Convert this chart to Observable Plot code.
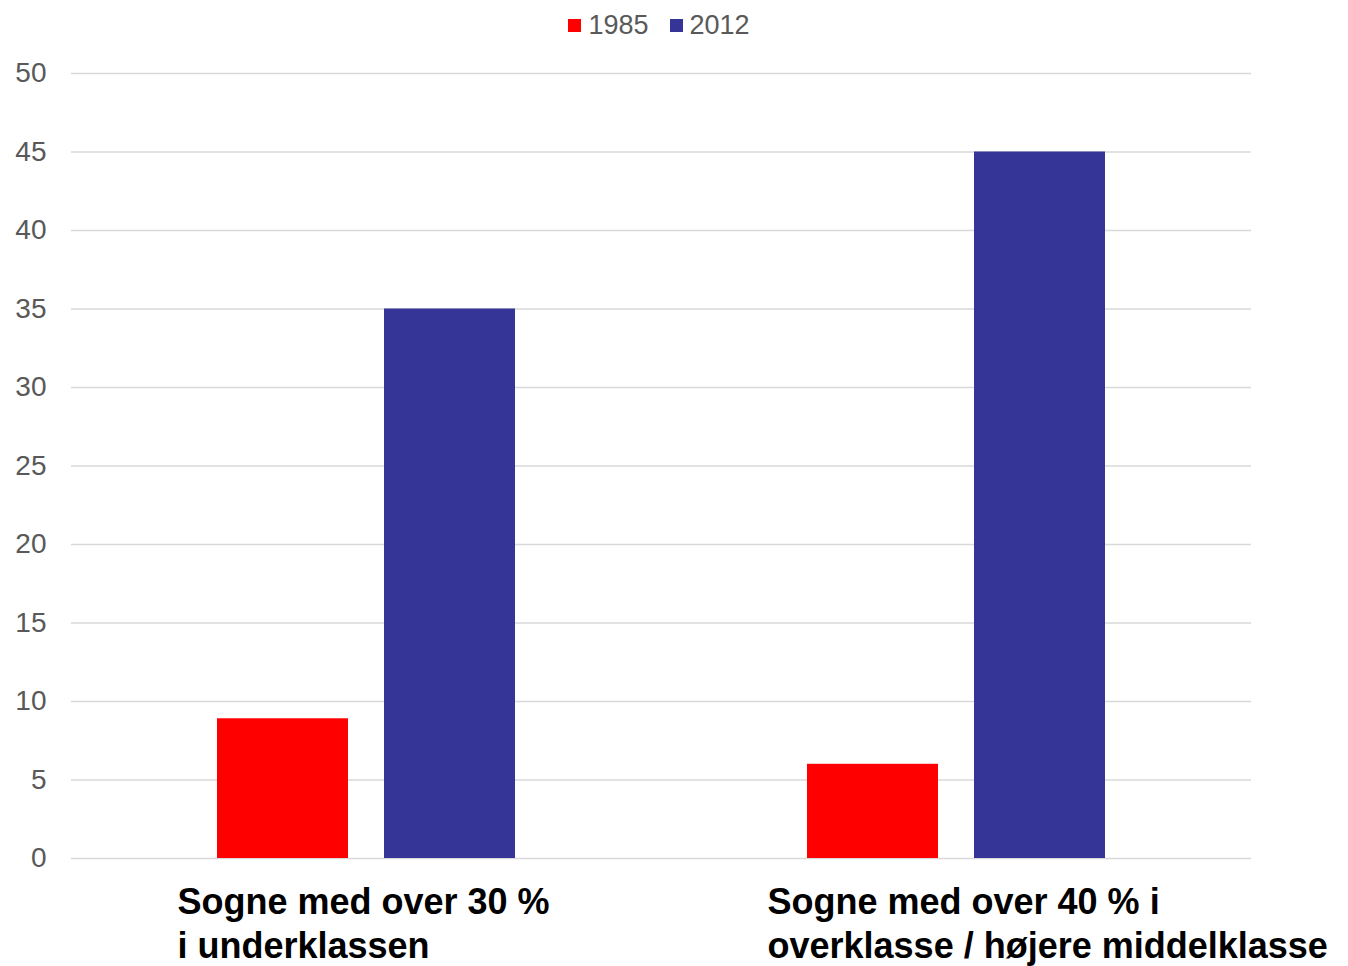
<!DOCTYPE html>
<html>
<head>
<meta charset="utf-8">
<script src="https://cdn.jsdelivr.net/npm/d3@7"></script>
<script src="https://cdn.jsdelivr.net/npm/@observablehq/plot@0.6"></script>
<style>
  html, body { margin: 0; padding: 0; background: #fff; }
  body { width: 1348px; height: 966px; overflow: hidden; font-family: "Liberation Sans", Arial, sans-serif; }
  #legend { height: 50px; display: flex; justify-content: center; align-items: center; gap: 21px; font-size: 27px; color: #595959; padding-right: 30px; box-sizing: border-box; }
  #legend .item { display: flex; align-items: center; gap: 7px; }
  #legend .sw { width: 13px; height: 13px; display: inline-block; }
</style>
</head>
<body>
<div id="legend"></div>
<div id="chart"></div>
<script>
const categories = ["Sogne med over 30 %\ni underklassen", "Sogne med over 40 % i\noverklasse / højere middelklasse"];
const series = ["1985", "2012"];
const values1985 = [8.9, 6];
const values2012 = [35, 45];
const colors = ["#ff0000", "#353597"];
const yTicks = [0, 5, 10, 15, 20, 25, 30, 35, 40, 45, 50];

const data = [];
categories.forEach((c, i) => {
  data.push({category: c, year: series[0], value: values1985[i]});
  data.push({category: c, year: series[1], value: values2012[i]});
});

const legend = document.getElementById("legend");
series.forEach((s, i) => {
  const item = document.createElement("span");
  item.className = "item";
  const sw = document.createElement("span");
  sw.className = "sw";
  sw.style.background = colors[i];
  const t = document.createElement("span");
  t.textContent = s;
  item.appendChild(sw);
  item.appendChild(t);
  legend.appendChild(item);
});

const chart = Plot.plot({
  width: 1348,
  height: 916,
  marginTop: 23,
  marginBottom: 108,
  marginLeft: 70,
  marginRight: 97,
  style: {fontFamily: "'Liberation Sans', Arial, sans-serif", background: "#fff"},
  fx: {domain: categories, padding: 0},
  x: {domain: series, paddingInner: 0.214, paddingOuter: 0.864, axis: null},
  y: {domain: [0, 50], label: null},
  color: {domain: series, range: colors},
  marks: [
    Plot.gridY(yTicks, {stroke: "#d9d9d9", strokeOpacity: 1, strokeWidth: 1.5}),
    Plot.barY(data, {fx: "category", x: "year", y: "value", fill: "year"}),
    Plot.axisY(yTicks, {tickSize: 0, tickPadding: 25, fontSize: 28, fill: "#595959", label: null, tickFormat: d => String(d)}),
    Plot.axisFx({
      anchor: "bottom",
      label: null,
      tickSize: 0,
      tickPadding: 24,
      fontSize: 36,
      fontWeight: "bold",
      fill: "#000",
      textAnchor: "start",
      lineHeight: 1.22,
      lineWidth: 100,
      dx: -189,
      tickFormat: d => d
    })
  ]
});
document.getElementById("chart").appendChild(chart);
</script>
</body>
</html>
